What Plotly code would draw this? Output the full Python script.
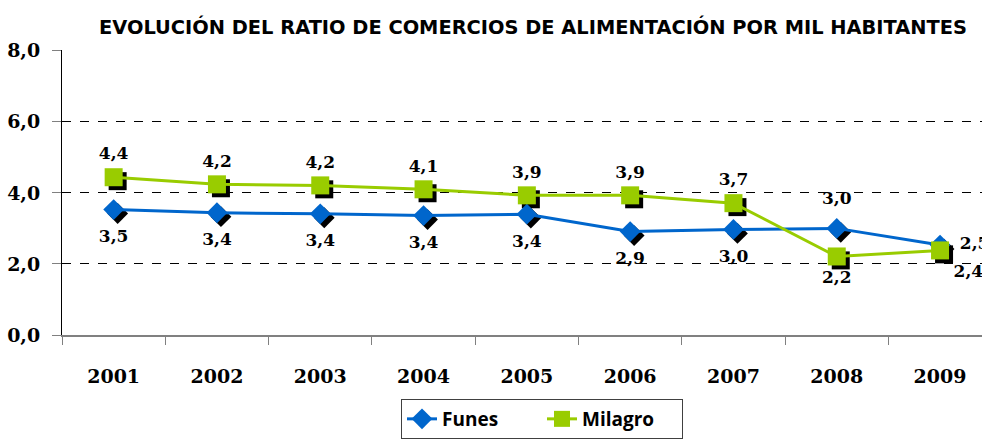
import plotly.graph_objects as go

years = ["2001", "2002", "2003", "2004", "2005", "2006", "2007", "2008", "2009"]
funes = [3.53, 3.44, 3.41, 3.36, 3.40, 2.91, 2.97, 3.00, 2.53]
milagro = [4.44, 4.24, 4.21, 4.10, 3.93, 3.93, 3.71, 2.21, 2.38]
funes_pos = ["bottom center"] * 7 + ["top center", "middle right"]
milagro_pos = ["top center"] * 7 + ["bottom center", "bottom right"]
y_ticks = [0, 2, 4, 6, 8]

W, H = 982, 439
ML, MR, MT, MB = 62, 0, 50, 100
PW, PH = W - ML - MR, H - MT - MB
CAT_PX = 103.3
x_range = [-0.5, -0.5 + PW / CAT_PX]
y_range = [0, 8.02]
SH = 4  # shadow offset in px
dx = SH * (x_range[1] - x_range[0]) / PW
dy = SH * (y_range[1] - y_range[0]) / PH

BLUE = "#0066CC"
GREEN = "#99CC00"
tickfont = dict(family="DejaVu Serif", size=19, color="black", weight="bold")
labelfont = dict(family="DejaVu Serif", size=17, color="black", weight="bold")


def fmt(v):
    return f"{v:.1f}".replace(".", ",")


fig = go.Figure()

# invisible carrier for the visible base axes
fig.add_trace(go.Scatter(x=years, y=funes, mode="lines", line=dict(width=0, color="rgba(0,0,0,0)"),
                         showlegend=False, hoverinfo="skip"))

# marker shadows on offset axes
fig.add_trace(go.Scatter(x=years, y=funes, mode="markers", xaxis="x2", yaxis="y2",
                         marker=dict(symbol="diamond", size=16, color="black", line=dict(width=0)),
                         showlegend=False, hoverinfo="skip"))
fig.add_trace(go.Scatter(x=years, y=milagro, mode="markers", xaxis="x2", yaxis="y2",
                         marker=dict(symbol="square", size=18, color="black", line=dict(width=0)),
                         showlegend=False, hoverinfo="skip"))

# series
fig.add_trace(go.Scatter(x=years, y=funes, name="Funes", mode="lines+markers",
                         xaxis="x3", yaxis="y3",
                         line=dict(color=BLUE, width=3),
                         marker=dict(symbol="diamond", size=16, color=BLUE)))
fig.add_trace(go.Scatter(x=years, y=milagro, name="Milagro", mode="lines+markers",
                         xaxis="x3", yaxis="y3",
                         line=dict(color=GREEN, width=3),
                         marker=dict(symbol="square", size=18, color=GREEN)))

# data labels (transparent carrier markers set the label distance)
fig.add_trace(go.Scatter(x=years, y=funes, mode="markers+text", xaxis="x3", yaxis="y3",
                         marker=dict(size=30, color="rgba(0,0,0,0)"),
                         text=[fmt(v) for v in funes], textposition=funes_pos,
                         textfont=labelfont, cliponaxis=False,
                         showlegend=False, hoverinfo="skip"))
fig.add_trace(go.Scatter(x=years, y=milagro, mode="markers+text", xaxis="x3", yaxis="y3",
                         marker=dict(size=20, color="rgba(0,0,0,0)"),
                         text=[fmt(v) for v in milagro], textposition=milagro_pos,
                         textfont=labelfont, cliponaxis=False,
                         showlegend=False, hoverinfo="skip"))

fig.update_layout(
    width=W, height=H,
    margin=dict(l=ML, r=MR, t=MT, b=MB),
    paper_bgcolor="white", plot_bgcolor="white",
    separators=",.",
    title=dict(text="EVOLUCIÓN DEL RATIO DE COMERCIOS DE ALIMENTACIÓN POR MIL HABITANTES",
               x=533 / W, xanchor="center", y=1 - 27 / H, yanchor="middle",
               font=dict(family="DejaVu Sans", size=19.4, color="black", weight="bold")),
    xaxis=dict(type="category", range=x_range, showgrid=False,
               showline=True, linecolor="#808080", linewidth=2,
               ticks="outside", tickson="boundaries", ticklen=8, tickcolor="#808080", tickwidth=1,
               tickfont=tickfont, ticklabelstandoff=23, zeroline=False),
    yaxis=dict(range=y_range, tickvals=y_ticks, tickformat=".1f",
               showgrid=True, gridcolor="black", griddash="dash", gridwidth=1,
               showline=True, linecolor="black", linewidth=1,
               ticks="outside", ticklen=9, tickcolor="#808080",
               tickfont=tickfont, ticklabelstandoff=8, zeroline=False),
    xaxis2=dict(type="category", range=[x_range[0] - dx, x_range[1] - dx], overlaying="x",
                visible=False, anchor="y2"),
    yaxis2=dict(range=[y_range[0] + dy, y_range[1] + dy], overlaying="y",
                visible=False, anchor="x2"),
    xaxis3=dict(type="category", range=x_range, overlaying="x", visible=False, anchor="y3"),
    yaxis3=dict(range=y_range, overlaying="y", visible=False, anchor="x3"),
    legend=dict(orientation="h", x=(542 - ML) / PW, xanchor="center",
                y=-65 / PH, yanchor="top",
                bordercolor="#404040", borderwidth=1,
                font=dict(family="Open Sans", size=19, color="black", weight="bold"),
                entrywidth=95, entrywidthmode="pixels",
                tracegroupgap=0),
    showlegend=True,
)

fig.write_html("out.html", config={"displayModeBar": False},
               post_script="document.body.style.margin='0px';document.body.style.overflow='hidden';")
